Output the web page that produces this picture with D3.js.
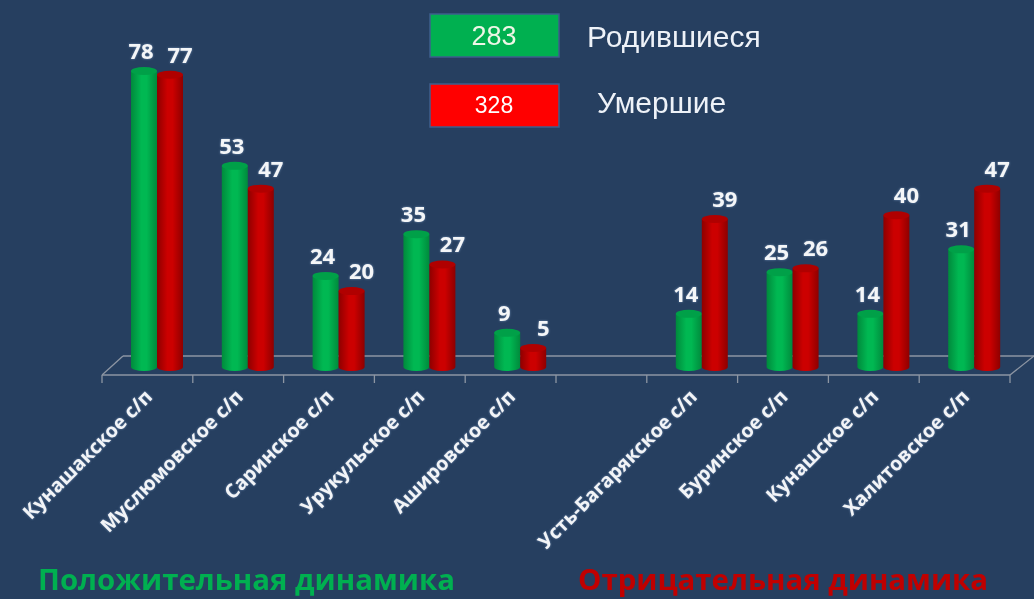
<!DOCTYPE html>
<html><head><meta charset="utf-8">
<script src="https://cdn.jsdelivr.net/npm/d3@7"></script>
<style>html,body{margin:0;padding:0;background:#263f60;overflow:hidden}</style>
</head><body>
<svg id="c" width="1034" height="599"></svg>
<script>
const categories = ["Кунашакское с/п","Муслюмовское с/п","Саринское с/п","Урукульское с/п","Ашировское с/п","","Усть-Багарякское с/п","Буринское с/п","Кунашское с/п","Халитовское с/п"];
const births = [78,53,24,35,9,null,14,25,14,31];
const deaths = [77,47,20,27,5,null,39,26,40,47];
const seriesNames = ["Родившиеся","Умершие"];
const totals = [283,328];
const groupTitles = ["Положительная динамика","Отрицательная динамика"];

const svg = d3.select("#c");
svg.append("rect").attr("width",1034).attr("height",599).attr("fill","#263f60");

const defs = svg.append("defs");
function grad(id, edge, mid){
  const g = defs.append("linearGradient").attr("id",id).attr("x1","0").attr("x2","1").attr("y1","0").attr("y2","0");
  g.append("stop").attr("offset","0").attr("stop-color",edge);
  g.append("stop").attr("offset","0.4").attr("stop-color",mid);
  g.append("stop").attr("offset","0.6").attr("stop-color",mid);
  g.append("stop").attr("offset","1").attr("stop-color",edge);
}
grad("gG","#008a3c","#00b852");
grad("gR","#8e0000","#cc0000");
const glow = defs.append("filter").attr("id","glow").attr("x","-20%").attr("y","-20%").attr("width","140%").attr("height","140%");
glow.append("feGaussianBlur").attr("in","SourceAlpha").attr("stdDeviation","0.8").attr("result","b");
glow.append("feFlood").attr("flood-color","#9ab8e0").attr("flood-opacity","0.6");
glow.append("feComposite").attr("in2","b").attr("operator","in").attr("result","s");
const fm = glow.append("feMerge"); fm.append("feMergeNode").attr("in","s"); fm.append("feMergeNode").attr("in","SourceGraphic");

const x0 = d3.scaleBand().domain(d3.range(categories.length)).range([102,1010]);
const x1 = d3.scaleBand().domain([0,1]).range([0,52]);
const y = d3.scaleLinear().domain([0,78]).range([367,71]);
const depthX = 21, depthY = -19, frontY = 375;

// floor
const axisCol = "#8d96a3";
const fl = svg.append("g").attr("stroke",axisCol).attr("stroke-width",1.3).attr("fill","none");
fl.append("line").attr("x1",102+depthX).attr("x2",1034).attr("y1",frontY+depthY).attr("y2",frontY+depthY);
fl.append("line").attr("x1",102).attr("x2",102+depthX).attr("y1",frontY).attr("y2",frontY+depthY);
fl.append("line").attr("x1",1010).attr("x2",1010+depthX+3).attr("y1",frontY).attr("y2",frontY+depthY);

// bars
const series = [births, deaths];
const fills = ["url(#gG)","url(#gR)"];
const tops = ["#00a048","#b00000"];
const labelDx = [-3, 10];
const ry = 4;
const grp = svg.append("g");
categories.forEach((c,i)=>{
  [0,1].forEach(s=>{
    const v = series[s][i];
    if (v==null) return;
    const bx = x0(i) + 29 + x1(s), bw = x1.bandwidth();
    const cx = bx + bw/2, yt = y(v), yb = y(0);
    grp.append("path")
      .attr("d",`M${bx},${yt} L${bx},${yb} A${bw/2},${ry} 0 0 0 ${bx+bw},${yb} L${bx+bw},${yt} Z`)
      .attr("fill",fills[s]);
    grp.append("ellipse").attr("cx",cx).attr("cy",yt).attr("rx",bw/2).attr("ry",ry).attr("fill",tops[s]);
  });
});
const ax = svg.append("g").attr("stroke",axisCol).attr("stroke-width",1.3);
ax.append("line").attr("x1",102).attr("x2",1010).attr("y1",frontY).attr("y2",frontY);
d3.range(categories.length+1).forEach(k=>{
  const xx = k<categories.length ? x0(k) : x0(categories.length-1)+x0.bandwidth();
  ax.append("line").attr("x1",xx).attr("x2",xx).attr("y1",frontY).attr("y2",frontY+8);
});

// value labels
const vl = svg.append("g").attr("font-family","'Open Sans', sans-serif").attr("font-weight",700)
  .attr("font-size",22).attr("fill","#f4f6f8").attr("text-anchor","middle").attr("filter","url(#glow)");
categories.forEach((c,i)=>{
  [0,1].forEach(s=>{
    const v = series[s][i];
    if (v==null) return;
    const cx = x0(i) + 29 + x1(s) + x1.bandwidth()/2 + labelDx[s];
    vl.append("text").attr("x",cx).attr("y",y(v)-20).attr("dy","0.36em").text(v);
  });
});

// category labels
const cl = svg.append("g").attr("font-family","'Open Sans', sans-serif").attr("font-weight",700)
  .attr("font-size",19.5).attr("fill","#f2f4f7").attr("text-anchor","end").attr("filter","url(#glow)");
categories.forEach((c,i)=>{
  if(!c) return;
  const cx = x0(i) + x0.bandwidth()/2;
  cl.append("text").attr("transform",`translate(${cx+6},${398}) rotate(-45)`).text(c);
});

// legend
const legendY = [14,84];
const legendFill = ["#00b050","#ff0000"];
const legendNumSize = [27,23];
const legendNumBase = [45,113];
const legendTextX = [587,597];
const legendTextBase = [47,113];
[0,1].forEach(s=>{
  svg.append("rect").attr("x",430).attr("y",legendY[s]).attr("width",129).attr("height",43)
    .attr("fill",legendFill[s]).attr("stroke","#3e5f8c").attr("stroke-width",1.5);
  svg.append("text").attr("x",494).attr("y",legendNumBase[s]).attr("text-anchor","middle")
    .attr("font-family","'Liberation Sans', Arial, sans-serif").attr("font-size",legendNumSize[s])
    .attr("fill", s===0?"#eef6e6":"#ffffff").text(totals[s]);
  svg.append("text").attr("x",legendTextX[s]).attr("y",legendTextBase[s])
    .attr("font-family","'Liberation Sans', Arial, sans-serif").attr("font-size",30)
    .attr("fill","#eef2f8").text(seriesNames[s]);
});

// group titles
const gt = svg.append("g").attr("font-family","'Open Sans', sans-serif").attr("font-weight",700).attr("font-size",28);
gt.append("text").attr("x",38).attr("y",590).attr("fill","#00b050").attr("textLength",417).attr("lengthAdjust","spacingAndGlyphs").text(groupTitles[0]);
gt.append("text").attr("x",578).attr("y",590).attr("fill","#c00000").attr("textLength",410).attr("lengthAdjust","spacingAndGlyphs").text(groupTitles[1]);
</script>
</body></html>
